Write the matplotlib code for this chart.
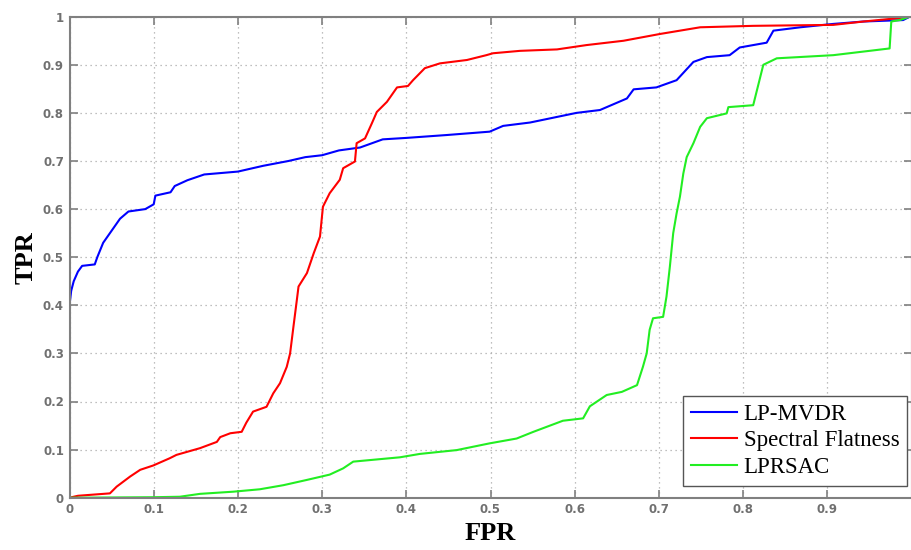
import matplotlib.pyplot as plt
import numpy as np

# ROC-Kurven (FPR, TPR)
fpr_mvdr = [0.0, 0.0, 0.002, 0.005, 0.010, 0.015, 0.030, 0.033, 0.040, 0.050, 0.060, 0.070,
            0.090, 0.100, 0.102, 0.120, 0.125, 0.140, 0.160, 0.200, 0.230, 0.260, 0.280,
            0.300, 0.320, 0.345, 0.372, 0.400, 0.448, 0.499, 0.515, 0.547, 0.602, 0.630,
            0.662, 0.670, 0.697, 0.721, 0.741, 0.757, 0.784, 0.796, 0.828, 0.836, 0.868,
            0.907, 0.943, 0.990, 0.998]
tpr_mvdr = [0.18, 0.40, 0.43, 0.45, 0.47, 0.482, 0.485, 0.50, 0.53, 0.555, 0.58, 0.595,
            0.60, 0.61, 0.628, 0.635, 0.648, 0.66, 0.672, 0.678, 0.69, 0.70, 0.708,
            0.712, 0.722, 0.728, 0.745, 0.748, 0.754, 0.761, 0.773, 0.78, 0.80, 0.806,
            0.830, 0.849, 0.853, 0.868, 0.906, 0.916, 0.920, 0.936, 0.946, 0.971, 0.978,
            0.985, 0.99, 0.993, 1.0]

fpr_sf = [0.0, 0.010, 0.048, 0.056, 0.072, 0.084, 0.0995, 0.119, 0.127, 0.155, 0.175,
          0.179, 0.191, 0.2045, 0.21, 0.218, 0.234, 0.242, 0.25, 0.258, 0.262, 0.266,
          0.27, 0.272, 0.282, 0.29, 0.2975, 0.301, 0.309, 0.321, 0.325, 0.339, 0.341,
          0.351, 0.359, 0.365, 0.377, 0.389, 0.402, 0.408, 0.422, 0.44, 0.472, 0.495,
          0.503, 0.535, 0.579, 0.614, 0.658, 0.701, 0.749, 0.812, 0.907, 0.943, 0.99, 0.998]
tpr_sf = [0.0, 0.004, 0.009, 0.023, 0.044, 0.058, 0.067, 0.082, 0.089, 0.103, 0.116,
          0.126, 0.134, 0.137, 0.156, 0.179, 0.189, 0.217, 0.238, 0.272, 0.30, 0.356,
          0.411, 0.439, 0.467, 0.508, 0.543, 0.605, 0.633, 0.661, 0.685, 0.699, 0.737,
          0.747, 0.778, 0.802, 0.823, 0.853, 0.856, 0.868, 0.893, 0.903, 0.91, 0.92,
          0.924, 0.929, 0.932, 0.941, 0.95, 0.964, 0.978, 0.981, 0.983, 0.99, 0.998, 1.0]

fpr_lprsac = [0.0, 0.10, 0.131, 0.155, 0.1945, 0.226, 0.254, 0.282, 0.309, 0.325, 0.337,
              0.3925, 0.416, 0.46, 0.499, 0.531, 0.551, 0.586, 0.610, 0.618, 0.638, 0.656,
              0.674, 0.681, 0.6855, 0.689, 0.693, 0.705, 0.709, 0.713, 0.717, 0.721, 0.725,
              0.729, 0.733, 0.741, 0.749, 0.757, 0.7805, 0.7825, 0.812, 0.818, 0.824, 0.84,
              0.907, 0.974, 0.976, 0.986, 0.998]
tpr_lprsac = [0.0, 0.001, 0.002, 0.008, 0.0125, 0.0175, 0.026, 0.037, 0.048, 0.061, 0.075,
              0.084, 0.091, 0.099, 0.113, 0.123, 0.137, 0.16, 0.165, 0.19, 0.2135, 0.22,
              0.234, 0.272, 0.30, 0.349, 0.373, 0.376, 0.418, 0.48, 0.55, 0.591, 0.626,
              0.674, 0.708, 0.737, 0.771, 0.789, 0.799, 0.812, 0.816, 0.858, 0.90, 0.9135,
              0.92, 0.934, 0.99, 0.993, 1.0]

achsen_farbe = "#808080"
plt.rcParams["font.family"] = "DejaVu Sans"

fig = plt.figure(figsize=(9.11, 5.5), dpi=100)
ax = fig.add_axes([69.5 / 911, 52.3 / 550, 842 / 911, 481 / 550])

ax.plot(fpr_mvdr, tpr_mvdr, color="#0000ff", lw=1.5, label="LP-MVDR")
ax.plot(fpr_sf, tpr_sf, color="#ff0000", lw=1.5, label="Spectral Flatness")
ax.plot(fpr_lprsac, tpr_lprsac, color="#22ee22", lw=1.5, label="LPRSAC")

ax.set_xlim(0, 1)
ax.set_ylim(0, 1)
ax.set_xticks(np.arange(0, 1.0, 0.1))
ax.set_xticklabels(["0", "0.1", "0.2", "0.3", "0.4", "0.5", "0.6", "0.7", "0.8", "0.9"])
ax.set_yticks(np.arange(0, 1.01, 0.1))
ax.set_yticklabels(["0", "0.1", "0.2", "0.3", "0.4", "0.5", "0.6", "0.7", "0.8", "0.9", "1"])
ax.tick_params(direction="in", length=6, width=1.2, colors=achsen_farbe,
               labelsize=8.5, top=True, right=True, pad=4)
for lbl in ax.get_xticklabels() + ax.get_yticklabels():
    lbl.set_fontweight("bold")
    lbl.set_color("#707070")
for s in ax.spines.values():
    s.set_color(achsen_farbe)
    s.set_linewidth(1.5)

ax.grid(True, linestyle=(0, (1, 3)), color="#aaaaaa", linewidth=0.9)

ax.set_xlabel("FPR", fontsize=19, fontweight="bold", family="Liberation Serif", labelpad=4)
ax.set_ylabel("TPR", fontsize=19, fontweight="bold", family="Liberation Serif", labelpad=4)

leg = ax.legend(loc="lower right", bbox_to_anchor=(0.995, 0.024), borderaxespad=0,
                fancybox=False, framealpha=1, edgecolor="#555555", handlelength=2.0,
                handletextpad=0.3, labelspacing=0.25, borderpad=0.35,
                prop={"family": "Liberation Serif", "size": 16.5})
leg.get_frame().set_linewidth(1.0)

plt.savefig("out.png", dpi=100)
